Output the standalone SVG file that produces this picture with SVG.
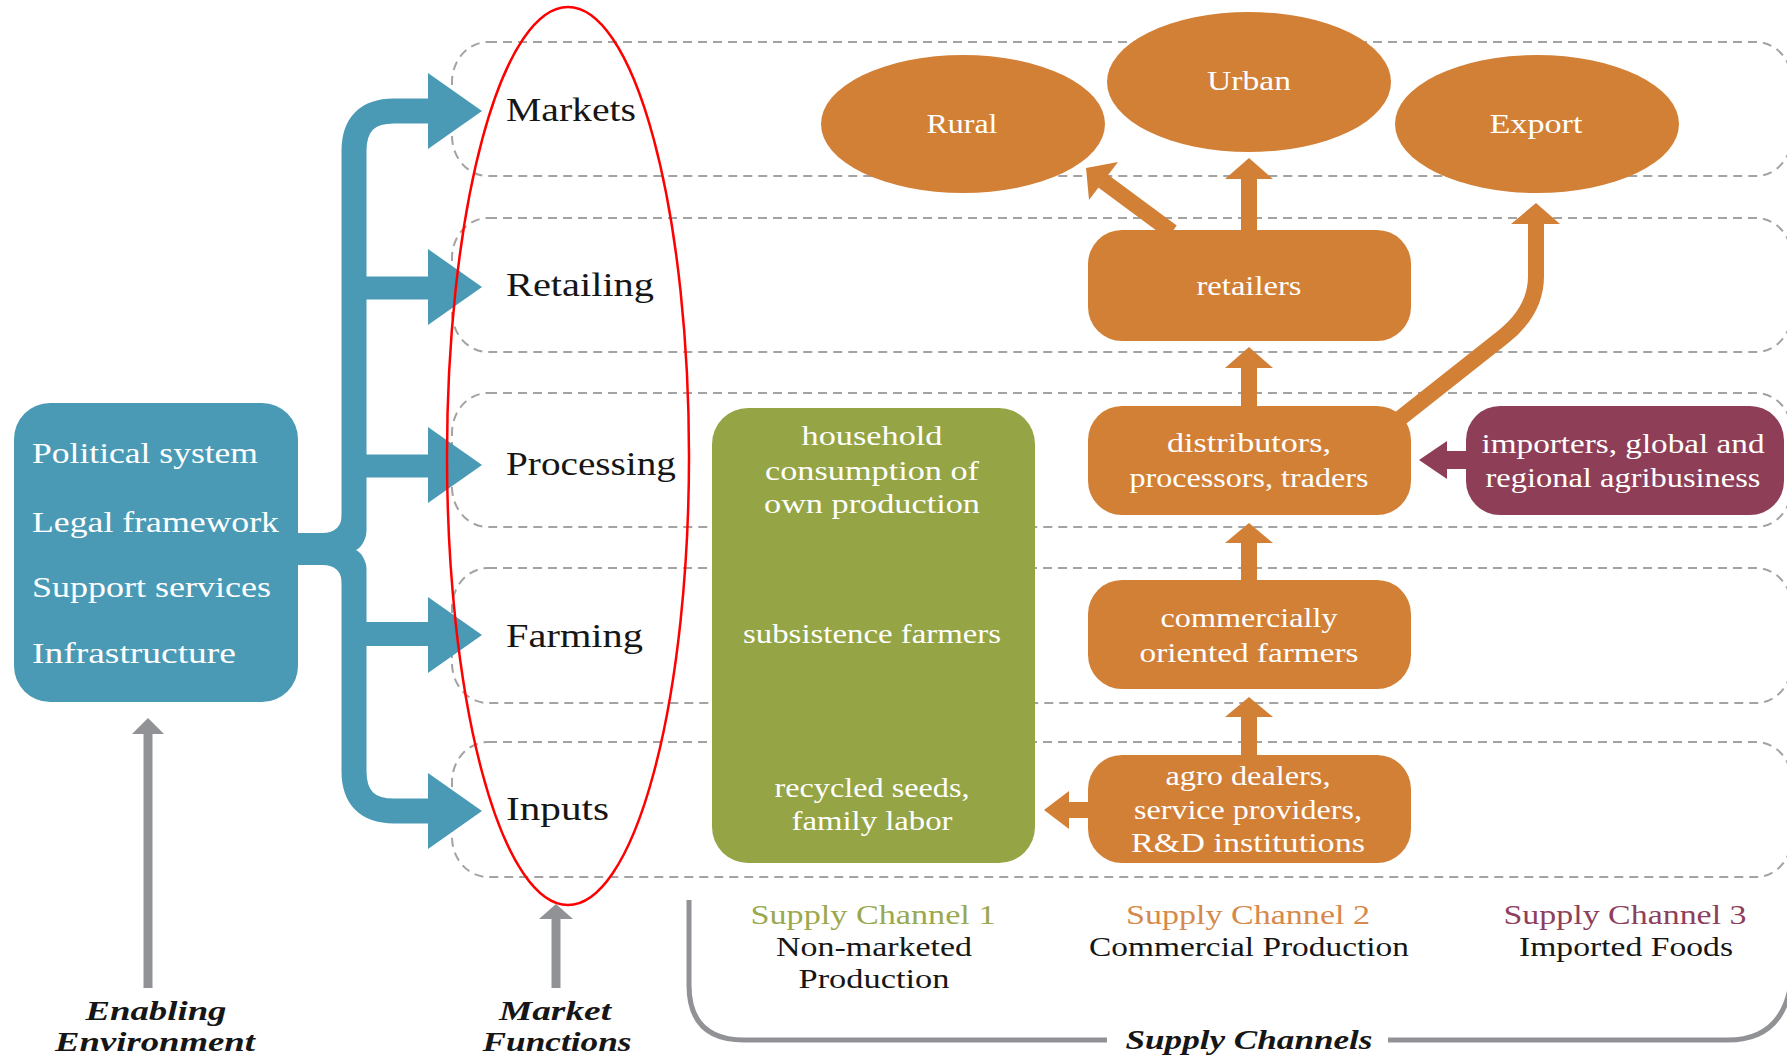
<svg xmlns="http://www.w3.org/2000/svg" width="1787" height="1057" viewBox="0 0 1787 1057">
<style>
.row{fill:none;stroke:#a3a3a3;stroke-width:2;stroke-dasharray:9 6}
.teal{fill:#4A9AB6}
.tealS{fill:none;stroke:#4A9AB6}
.or{fill:#D38037}
.orS{fill:none;stroke:#D38037;stroke-width:16}
.gr{fill:#95A546}
.mar{fill:#8E3F57}
.grey{fill:#919295}
.greyS{fill:none;stroke:#919295}
text{font-family:"Liberation Serif","Times New Roman",serif}
.w{fill:#ffffff}
.k{fill:#161616}
.box{font-size:28px}
.lab{font-size:33px}
.env{font-size:30px}
.ch{font-size:28px}
.it{font-size:28px;font-weight:bold;font-style:italic}
</style>
<rect width="1787" height="1057" fill="#ffffff"/>

<g id="rows">
<rect class="row" x="452" y="42" width="1340" height="134" rx="36" ry="40"/>
<rect class="row" x="452" y="218" width="1340" height="134" rx="36" ry="40"/>
<rect class="row" x="452" y="393" width="1340" height="134" rx="36" ry="40"/>
<rect class="row" x="452" y="568" width="1340" height="135" rx="36" ry="40"/>
<rect class="row" x="452" y="742" width="1340" height="135" rx="36" ry="40"/>
</g>

<g id="connectors">
<!-- blue bracket -->
<path class="tealS" stroke-width="25" d="M 430 111 H 394 Q 354 111 354 151 V 771 Q 354 811 394 811 H 430"/>
<line class="tealS" stroke-width="23" x1="354" y1="288" x2="430" y2="288"/>
<line class="tealS" stroke-width="23" x1="354" y1="466" x2="430" y2="466"/>
<line class="tealS" stroke-width="24" x1="354" y1="634" x2="430" y2="634"/>
<rect class="teal" x="290" y="533" width="64" height="32"/>
<path class="teal" d="M 322 533 Q 342 533 342 513 L 342 533 Z"/>
<path class="teal" d="M 322 565 Q 342 565 342 585 L 342 565 Z"/>
<path fill="#ffffff" d="M 368 524 Q 366 545 356 550 Q 366 555 368 576 Z"/>
<polygon class="teal" points="428,73 482,111 428,149"/>
<polygon class="teal" points="428,249 482,287 428,325"/>
<polygon class="teal" points="428,427 482,465 428,503"/>
<polygon class="teal" points="428,597 482,635 428,673"/>
<polygon class="teal" points="428,773 482,811 428,849"/>

<!-- grey arrows -->
<line class="greyS" stroke-width="9" x1="148" y1="988" x2="148" y2="730"/>
<polygon class="grey" points="132,734 148,718 164,734"/>
<line class="greyS" stroke-width="9" x1="556" y1="988" x2="556" y2="915"/>
<polygon class="grey" points="539,919 556,904 573,919"/>
<path class="greyS" stroke-width="5" d="M 689 900 V 985 Q 689 1040 744 1040 H 1107"/>
<path class="greyS" stroke-width="5" d="M 1388 1040 H 1728 Q 1786 1040 1792 975"/>

<!-- orange arrows -->
<line class="orS" x1="1249" y1="232" x2="1249" y2="176"/>
<polygon class="or" points="1225,179 1249,158 1273,179"/>
<line class="orS" x1="1172" y1="232" x2="1103" y2="181"/>
<polygon class="or" points="1118,162 1086,168 1089,200"/>
<path class="orS" d="M 1398 420 L 1503 337 Q 1536 311 1536 276 V 220"/>
<polygon class="or" points="1511,224 1536,203 1560,224"/>
<line class="orS" x1="1249" y1="410" x2="1249" y2="364"/>
<polygon class="or" points="1225,368 1249,347 1273,368"/>
<line class="orS" x1="1249" y1="584" x2="1249" y2="540"/>
<polygon class="or" points="1225,543 1249,523 1273,543"/>
<line class="orS" x1="1249" y1="760" x2="1249" y2="714"/>
<polygon class="or" points="1225,717 1249,697 1273,717"/>
<line class="orS" stroke-width="14" x1="1092" y1="810" x2="1066" y2="810"/>
<polygon class="or" points="1069,791 1044,810 1069,829"/>
<line stroke="#8E3F57" stroke-width="18" x1="1470" y1="460" x2="1444" y2="460"/>
<polygon class="mar" points="1447,441 1419,460 1447,479"/>
</g>

<g id="enabling">
<rect class="teal" x="14" y="403" width="284" height="299" rx="36" ry="36"/>
<text class="w env" x="32" y="463" textLength="226" lengthAdjust="spacingAndGlyphs">Political system</text>
<text class="w env" x="32" y="532" textLength="247" lengthAdjust="spacingAndGlyphs">Legal framework</text>
<text class="w env" x="32" y="597" textLength="239" lengthAdjust="spacingAndGlyphs">Support services</text>
<text class="w env" x="32" y="663" textLength="204" lengthAdjust="spacingAndGlyphs">Infrastructure</text>
</g>

<g id="functions">
<text class="k lab" x="506" y="121" textLength="130" lengthAdjust="spacingAndGlyphs">Markets</text>
<text class="k lab" x="506" y="296" textLength="148" lengthAdjust="spacingAndGlyphs">Retailing</text>
<text class="k lab" x="506" y="475" textLength="170" lengthAdjust="spacingAndGlyphs">Processing</text>
<text class="k lab" x="506" y="647" textLength="137" lengthAdjust="spacingAndGlyphs">Farming</text>
<text class="k lab" x="506" y="820" textLength="103" lengthAdjust="spacingAndGlyphs">Inputs</text>
</g>

<g id="rural">
<ellipse class="or" cx="963" cy="124" rx="142" ry="69"/>
<text class="w box" x="962" y="133" text-anchor="middle" textLength="71" lengthAdjust="spacingAndGlyphs">Rural</text>
</g>
<g id="urban">
<ellipse class="or" cx="1249" cy="82" rx="142" ry="70"/>
<text class="w box" x="1249" y="90" text-anchor="middle" textLength="84" lengthAdjust="spacingAndGlyphs">Urban</text>
</g>
<g id="export">
<ellipse class="or" cx="1537" cy="124" rx="142" ry="69"/>
<text class="w box" x="1536" y="133" text-anchor="middle" textLength="93" lengthAdjust="spacingAndGlyphs">Export</text>
</g>

<g id="retailers">
<rect class="or" x="1088" y="230" width="323" height="111" rx="34" ry="34"/>
<text class="w box" x="1249" y="295" text-anchor="middle" textLength="105" lengthAdjust="spacingAndGlyphs">retailers</text>
</g>
<g id="distributors">
<rect class="or" x="1088" y="406" width="323" height="109" rx="34" ry="34"/>
<text class="w box" x="1249" y="452" text-anchor="middle" textLength="164" lengthAdjust="spacingAndGlyphs">distributors,</text>
<text class="w box" x="1249" y="487" text-anchor="middle" textLength="239" lengthAdjust="spacingAndGlyphs">processors, traders</text>
</g>
<g id="importers">
<rect class="mar" x="1466" y="406" width="318" height="109" rx="34" ry="34"/>
<text class="w box" x="1623" y="453" text-anchor="middle" textLength="283" lengthAdjust="spacingAndGlyphs">importers, global and</text>
<text class="w box" x="1623" y="487" text-anchor="middle" textLength="275" lengthAdjust="spacingAndGlyphs">regional agribusiness</text>
</g>
<g id="commercial">
<rect class="or" x="1088" y="580" width="323" height="109" rx="34" ry="34"/>
<text class="w box" x="1249" y="627" text-anchor="middle" textLength="177" lengthAdjust="spacingAndGlyphs">commercially</text>
<text class="w box" x="1249" y="662" text-anchor="middle" textLength="219" lengthAdjust="spacingAndGlyphs">oriented farmers</text>
</g>
<g id="agro">
<rect class="or" x="1088" y="755" width="323" height="108" rx="34" ry="34"/>
<text class="w box" x="1248" y="785" text-anchor="middle" textLength="165" lengthAdjust="spacingAndGlyphs">agro dealers,</text>
<text class="w box" x="1248" y="819" text-anchor="middle" textLength="228" lengthAdjust="spacingAndGlyphs">service providers,</text>
<text class="w box" x="1248" y="852" text-anchor="middle" textLength="234" lengthAdjust="spacingAndGlyphs">R&amp;D institutions</text>
</g>
<g id="household">
<rect class="gr" x="712" y="408" width="323" height="455" rx="36" ry="36"/>
<text class="w box" x="872" y="445" text-anchor="middle" textLength="141" lengthAdjust="spacingAndGlyphs">household</text>
<text class="w box" x="872" y="480" text-anchor="middle" textLength="214" lengthAdjust="spacingAndGlyphs">consumption of</text>
<text class="w box" x="872" y="513" text-anchor="middle" textLength="216" lengthAdjust="spacingAndGlyphs">own production</text>
<text class="w box" x="872" y="643" text-anchor="middle" textLength="258" lengthAdjust="spacingAndGlyphs">subsistence farmers</text>
<text class="w box" x="872" y="797" text-anchor="middle" textLength="195" lengthAdjust="spacingAndGlyphs">recycled seeds,</text>
<text class="w box" x="872" y="830" text-anchor="middle" textLength="161" lengthAdjust="spacingAndGlyphs">family labor</text>
</g>

<g id="channels">
<text class="ch" fill="#9AA84F" x="873" y="924" text-anchor="middle" textLength="245" lengthAdjust="spacingAndGlyphs">Supply Channel 1</text>
<text class="ch k" x="874" y="956" text-anchor="middle" textLength="196" lengthAdjust="spacingAndGlyphs">Non-marketed</text>
<text class="ch k" x="874" y="988" text-anchor="middle" textLength="151" lengthAdjust="spacingAndGlyphs">Production</text>
<text class="ch" fill="#D6894A" x="1248" y="924" text-anchor="middle" textLength="244" lengthAdjust="spacingAndGlyphs">Supply Channel 2</text>
<text class="ch k" x="1249" y="956" text-anchor="middle" textLength="320" lengthAdjust="spacingAndGlyphs">Commercial Production</text>
<text class="ch" fill="#8E3F5C" x="1625" y="924" text-anchor="middle" textLength="243" lengthAdjust="spacingAndGlyphs">Supply Channel 3</text>
<text class="ch k" x="1626" y="956" text-anchor="middle" textLength="214" lengthAdjust="spacingAndGlyphs">Imported Foods</text>
</g>

<g id="captions">
<text class="it k" x="156" y="1020" text-anchor="middle" textLength="141" lengthAdjust="spacingAndGlyphs">Enabling</text>
<text class="it k" x="155" y="1051" text-anchor="middle" textLength="200" lengthAdjust="spacingAndGlyphs">Environment</text>
<text class="it k" x="555" y="1020" text-anchor="middle" textLength="112" lengthAdjust="spacingAndGlyphs">Market</text>
<text class="it k" x="557" y="1051" text-anchor="middle" textLength="149" lengthAdjust="spacingAndGlyphs">Functions</text>
<text class="it k" x="1249" y="1049" text-anchor="middle" textLength="247" lengthAdjust="spacingAndGlyphs">Supply Channels</text>
</g>

<g id="highlight">
<ellipse cx="568" cy="456" rx="121" ry="449" fill="none" stroke="#ff0000" stroke-width="2.5"/>
</g>
</svg>
